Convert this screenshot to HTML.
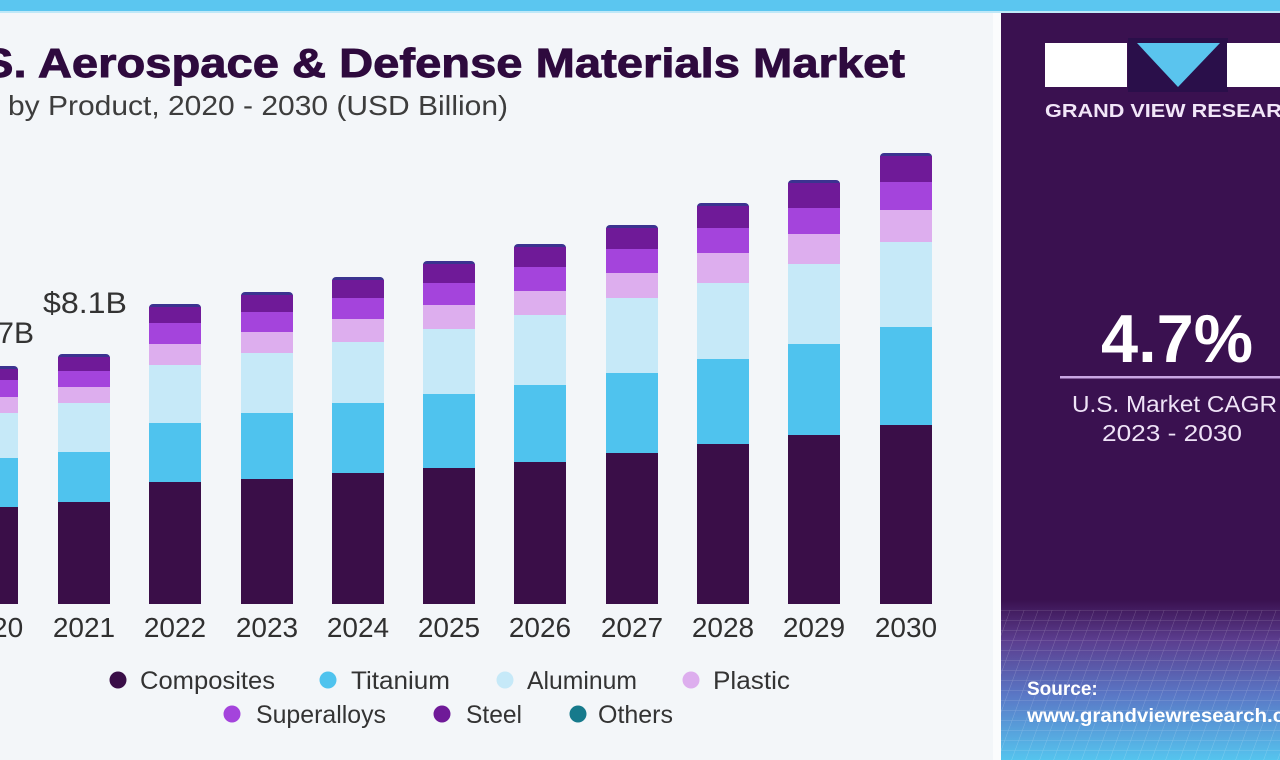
<!DOCTYPE html>
<html><head><meta charset="utf-8"><style>
html,body{margin:0;padding:0;width:1280px;height:760px;overflow:hidden;background:#f3f6f9;}
svg{display:block;font-family:"Liberation Sans",Arial,sans-serif;}
</style></head><body>
<svg width="1280" height="760" viewBox="0 0 1280 760" xmlns="http://www.w3.org/2000/svg">
<defs>
<linearGradient id="pg" x1="0" y1="0" x2="0" y2="1">
<stop offset="0" stop-color="#3a1150"/>
<stop offset="0.25" stop-color="#5b3d8e"/>
<stop offset="0.6" stop-color="#5a78c6"/>
<stop offset="1" stop-color="#55c4ee"/>
</linearGradient>
<pattern id="grid" width="14" height="10" patternUnits="userSpaceOnUse" patternTransform="skewX(-20)">
<path d="M0 0H14M0 0V10" stroke="#ffffff" stroke-opacity="0.22" stroke-width="1" fill="none"/>
</pattern>
</defs>
<rect x="0" y="0" width="1280" height="760" fill="#f3f6f9"/>
<rect x="0" y="0" width="1280" height="11" fill="#5bc6f0"/>
<rect x="0" y="11" width="1280" height="2" fill="#bfe8f8"/>

<!-- Title -->
<text x="-18" y="77" font-size="41" font-weight="bold" fill="#2e0a3e" stroke="#2e0a3e" stroke-width="0.9" textLength="923" lengthAdjust="spacingAndGlyphs">S. Aerospace &amp; Defense Materials Market</text>
<text x="8" y="115" font-size="28" fill="#3d3d3d" textLength="500" lengthAdjust="spacingAndGlyphs">by Product, 2020 - 2030 (USD Billion)</text>

<!-- Bars: cap(others), steel, superalloys, plastic, aluminum, titanium, composites -->
<g id="bars">
<!-- 2020 -->
<rect x="-34" y="366" width="52" height="10" rx="4" fill="#3b3390"/>
<rect x="-34" y="369" width="52" height="11" fill="#6f1a98"/>
<rect x="-34" y="380" width="52" height="17" fill="#a444dc"/>
<rect x="-34" y="397" width="52" height="16" fill="#ddaeee"/>
<rect x="-34" y="413" width="52" height="45" fill="#c6e9f8"/>
<rect x="-34" y="458" width="52" height="49" fill="#4fc3ee"/>
<rect x="-34" y="507" width="52" height="97" fill="#3a0e48"/>
<!-- 2021 -->
<rect x="58" y="354" width="52" height="10" rx="4" fill="#3b3390"/>
<rect x="58" y="357" width="52" height="14" fill="#6f1a98"/>
<rect x="58" y="371" width="52" height="16" fill="#a444dc"/>
<rect x="58" y="387" width="52" height="16" fill="#ddaeee"/>
<rect x="58" y="403" width="52" height="49" fill="#c6e9f8"/>
<rect x="58" y="452" width="52" height="50" fill="#4fc3ee"/>
<rect x="58" y="502" width="52" height="102" fill="#3a0e48"/>
<!-- 2022 -->
<rect x="149" y="304" width="52" height="10" rx="4" fill="#3b3390"/>
<rect x="149" y="307" width="52" height="16" fill="#6f1a98"/>
<rect x="149" y="323" width="52" height="21" fill="#a444dc"/>
<rect x="149" y="344" width="52" height="21" fill="#ddaeee"/>
<rect x="149" y="365" width="52" height="58" fill="#c6e9f8"/>
<rect x="149" y="423" width="52" height="59" fill="#4fc3ee"/>
<rect x="149" y="482" width="52" height="122" fill="#3a0e48"/>
<!-- 2023 -->
<rect x="241" y="292" width="52" height="10" rx="4" fill="#3b3390"/>
<rect x="241" y="295" width="52" height="17" fill="#6f1a98"/>
<rect x="241" y="312" width="52" height="20" fill="#a444dc"/>
<rect x="241" y="332" width="52" height="21" fill="#ddaeee"/>
<rect x="241" y="353" width="52" height="60" fill="#c6e9f8"/>
<rect x="241" y="413" width="52" height="66" fill="#4fc3ee"/>
<rect x="241" y="479" width="52" height="125" fill="#3a0e48"/>
<!-- 2024 -->
<rect x="332" y="277" width="52" height="10" rx="4" fill="#3b3390"/>
<rect x="332" y="280" width="52" height="18" fill="#6f1a98"/>
<rect x="332" y="298" width="52" height="21" fill="#a444dc"/>
<rect x="332" y="319" width="52" height="23" fill="#ddaeee"/>
<rect x="332" y="342" width="52" height="61" fill="#c6e9f8"/>
<rect x="332" y="403" width="52" height="70" fill="#4fc3ee"/>
<rect x="332" y="473" width="52" height="131" fill="#3a0e48"/>
<!-- 2025 -->
<rect x="423" y="261" width="52" height="10" rx="4" fill="#3b3390"/>
<rect x="423" y="264" width="52" height="19" fill="#6f1a98"/>
<rect x="423" y="283" width="52" height="22" fill="#a444dc"/>
<rect x="423" y="305" width="52" height="24" fill="#ddaeee"/>
<rect x="423" y="329" width="52" height="65" fill="#c6e9f8"/>
<rect x="423" y="394" width="52" height="74" fill="#4fc3ee"/>
<rect x="423" y="468" width="52" height="136" fill="#3a0e48"/>
<!-- 2026 -->
<rect x="514" y="244" width="52" height="10" rx="4" fill="#3b3390"/>
<rect x="514" y="247" width="52" height="20" fill="#6f1a98"/>
<rect x="514" y="267" width="52" height="24" fill="#a444dc"/>
<rect x="514" y="291" width="52" height="24" fill="#ddaeee"/>
<rect x="514" y="315" width="52" height="70" fill="#c6e9f8"/>
<rect x="514" y="385" width="52" height="77" fill="#4fc3ee"/>
<rect x="514" y="462" width="52" height="142" fill="#3a0e48"/>
<!-- 2027 -->
<rect x="606" y="225" width="52" height="10" rx="4" fill="#3b3390"/>
<rect x="606" y="228" width="52" height="21" fill="#6f1a98"/>
<rect x="606" y="249" width="52" height="24" fill="#a444dc"/>
<rect x="606" y="273" width="52" height="25" fill="#ddaeee"/>
<rect x="606" y="298" width="52" height="75" fill="#c6e9f8"/>
<rect x="606" y="373" width="52" height="80" fill="#4fc3ee"/>
<rect x="606" y="453" width="52" height="151" fill="#3a0e48"/>
<!-- 2028 -->
<rect x="697" y="203" width="52" height="10" rx="4" fill="#3b3390"/>
<rect x="697" y="206" width="52" height="22" fill="#6f1a98"/>
<rect x="697" y="228" width="52" height="25" fill="#a444dc"/>
<rect x="697" y="253" width="52" height="30" fill="#ddaeee"/>
<rect x="697" y="283" width="52" height="76" fill="#c6e9f8"/>
<rect x="697" y="359" width="52" height="85" fill="#4fc3ee"/>
<rect x="697" y="444" width="52" height="160" fill="#3a0e48"/>
<!-- 2029 -->
<rect x="788" y="180" width="52" height="10" rx="4" fill="#3b3390"/>
<rect x="788" y="183" width="52" height="25" fill="#6f1a98"/>
<rect x="788" y="208" width="52" height="26" fill="#a444dc"/>
<rect x="788" y="234" width="52" height="30" fill="#ddaeee"/>
<rect x="788" y="264" width="52" height="80" fill="#c6e9f8"/>
<rect x="788" y="344" width="52" height="91" fill="#4fc3ee"/>
<rect x="788" y="435" width="52" height="169" fill="#3a0e48"/>
<!-- 2030 -->
<rect x="880" y="153" width="52" height="10" rx="4" fill="#3b3390"/>
<rect x="880" y="156" width="52" height="26" fill="#6f1a98"/>
<rect x="880" y="182" width="52" height="28" fill="#a444dc"/>
<rect x="880" y="210" width="52" height="32" fill="#ddaeee"/>
<rect x="880" y="242" width="52" height="85" fill="#c6e9f8"/>
<rect x="880" y="327" width="52" height="98" fill="#4fc3ee"/>
<rect x="880" y="425" width="52" height="179" fill="#3a0e48"/>
</g>

<!-- Value labels -->
<text x="34" y="343" font-size="30" fill="#333" text-anchor="end">$7.7B</text>
<text x="85" y="313" font-size="30" fill="#333" text-anchor="middle" textLength="84" lengthAdjust="spacingAndGlyphs">$8.1B</text>

<!-- Year labels -->
<g font-size="28" fill="#303030" text-anchor="middle">
<text x="-8" y="637">2020</text>
<text x="84" y="637">2021</text>
<text x="175" y="637">2022</text>
<text x="267" y="637">2023</text>
<text x="358" y="637">2024</text>
<text x="449" y="637">2025</text>
<text x="540" y="637">2026</text>
<text x="632" y="637">2027</text>
<text x="723" y="637">2028</text>
<text x="814" y="637">2029</text>
<text x="906" y="637">2030</text>
</g>

<!-- Legend -->
<g font-size="25" fill="#333">
<circle cx="118" cy="680" r="8.5" fill="#3a0e48"/>
<text x="140" y="689" textLength="135" lengthAdjust="spacingAndGlyphs">Composites</text>
<circle cx="328" cy="680" r="8.5" fill="#4fc3ee"/>
<text x="351" y="689" textLength="99" lengthAdjust="spacingAndGlyphs">Titanium</text>
<circle cx="505" cy="680" r="8.5" fill="#c6e9f8"/>
<text x="527" y="689" textLength="110" lengthAdjust="spacingAndGlyphs">Aluminum</text>
<circle cx="691" cy="680" r="8.5" fill="#ddaeee"/>
<text x="713" y="689" textLength="77" lengthAdjust="spacingAndGlyphs">Plastic</text>
<circle cx="232" cy="714" r="8.5" fill="#a444dc"/>
<text x="256" y="723" textLength="130" lengthAdjust="spacingAndGlyphs">Superalloys</text>
<circle cx="442" cy="714" r="8.5" fill="#6f1a98"/>
<text x="466" y="723" textLength="56" lengthAdjust="spacingAndGlyphs">Steel</text>
<circle cx="578" cy="714" r="8.5" fill="#167a8c"/>
<text x="598" y="723" textLength="75" lengthAdjust="spacingAndGlyphs">Others</text>
</g>

<!-- Right panel -->
<rect x="993" y="13" width="8" height="747" fill="#fbfcfd"/>
<rect x="1001" y="13" width="279" height="747" fill="#3a1150"/>
<rect x="1001" y="600" width="279" height="160" fill="url(#pg)"/>
<rect x="1001" y="610" width="279" height="150" fill="url(#grid)"/>

<!-- Logo -->
<rect x="1128" y="38" width="100" height="54" fill="#2a0f4a"/>
<rect x="1045" y="43" width="82" height="44" fill="#ffffff"/>
<polygon points="1137,43 1220,43 1178,87" fill="#5ac4ee"/>
<rect x="1227" y="43" width="60" height="44" fill="#ffffff"/>
<text x="1045" y="117" font-size="18" font-weight="bold" fill="#f2e6f8" textLength="268" lengthAdjust="spacingAndGlyphs">GRAND VIEW RESEARCH</text>

<!-- CAGR -->
<text x="1101" y="362" font-size="68" font-weight="bold" fill="#ffffff" textLength="152" lengthAdjust="spacingAndGlyphs">4.7%</text>
<rect x="1060" y="376" width="220" height="2.5" fill="#c9a6e3"/>
<text x="1072" y="412" font-size="23" fill="#efe3f7" textLength="205" lengthAdjust="spacingAndGlyphs">U.S. Market CAGR</text>
<text x="1102" y="441" font-size="23" fill="#efe3f7" textLength="140" lengthAdjust="spacingAndGlyphs">2023 - 2030</text>

<!-- Source -->
<text x="1027" y="695" font-size="19" font-weight="bold" fill="#ffffff">Source:</text>
<text x="1027" y="722" font-size="19" font-weight="bold" fill="#ffffff" textLength="288" lengthAdjust="spacingAndGlyphs">www.grandviewresearch.com</text>
</svg>
</body></html>
